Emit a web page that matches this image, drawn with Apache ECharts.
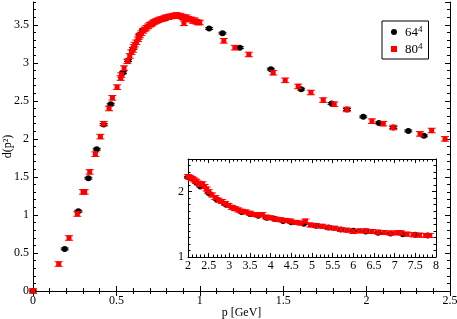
<!DOCTYPE html>
<html><head><meta charset="utf-8">
<script src="https://cdn.jsdelivr.net/npm/echarts@6/dist/echarts.min.js"></script>
<style>html,body{margin:0;padding:0;background:#fff}#c{width:457px;height:319px}</style>
</head><body><div id="c"></div><script>
// ---- data ----
const legendBases = ['64', '80'];
const legendPower = '4';
const xName = 'p [GeV]';
const yName = 'd(p\u00B2)';

// main panel, 64^4
const mainX64 = [0, 0.19, 0.272, 0.332, 0.382, 0.424, 0.466, 0.54, 0.57, 0.60, 0.64, 0.66, 0.72, 0.80, 1.056, 1.136, 1.24, 1.426, 1.608, 1.79, 1.882, 1.98, 2.074, 2.16, 2.25, 2.344];
const mainY64 = [0, 0.553, 1.049, 1.483, 1.864, 2.19, 2.456, 2.87, 3.03, 3.19, 3.37, 3.43, 3.52, 3.59, 3.45, 3.39, 3.20, 2.917, 2.654, 2.465, 2.387, 2.29, 2.21, 2.15, 2.105, 2.04];
const mainErr64 = 0.012;

// main panel, 80^4
const mainX80 = [0, 0.154, 0.216, 0.266, 0.300, 0.310, 0.34, 0.374, 0.404, 0.424, 0.456, 0.476, 0.504, 0.526, 0.53, 0.546, 0.566,
  0.58, 0.59, 0.60, 0.605, 0.61, 0.62, 0.63, 0.635, 0.64, 0.65, 0.66, 0.67, 0.68, 0.69, 0.70, 0.71, 0.72, 0.73, 0.74, 0.75, 0.76, 0.77, 0.78, 0.79,
  0.80, 0.81, 0.82, 0.83, 0.84, 0.85, 0.86, 0.87, 0.88, 0.89, 0.90, 0.905, 0.91, 0.92, 0.93, 0.94, 0.95, 0.96, 0.97, 0.98, 0.99, 1.00,
  1.144, 1.21, 1.294, 1.44, 1.512, 1.59, 1.666, 1.74, 1.806, 1.882, 2.032, 2.10, 2.16, 2.32, 2.39, 2.47];
const mainY80 = [0, 0.355, 0.697, 1.013, 1.303, 1.303, 1.566, 1.799, 2.03, 2.20, 2.40, 2.54, 2.68, 2.80, 2.84, 2.93, 3.02,
  3.09, 3.14, 3.17, 3.21, 3.24, 3.27, 3.31, 3.34, 3.36, 3.39, 3.42, 3.44, 3.46, 3.48, 3.50, 3.51, 3.53, 3.54, 3.55, 3.56, 3.57, 3.575, 3.58, 3.59,
  3.60, 3.60, 3.61, 3.61, 3.62, 3.62, 3.63, 3.62, 3.62, 3.61, 3.60, 3.52, 3.59, 3.60, 3.58, 3.57, 3.57, 3.55, 3.56, 3.54, 3.53, 3.53,
  3.29, 3.20, 3.11, 2.87, 2.77, 2.69, 2.61, 2.51, 2.456, 2.387, 2.233, 2.20, 2.15, 2.066, 2.11, 2.00];
const mainErr80 = 0.03;

// inset, 64^4
const insetX64 = [2.0, 2.2, 2.3, 2.5, 2.7, 2.9, 3.1, 3.3, 3.5, 3.7, 3.9, 4.1, 4.3, 4.5, 4.8, 5.1, 5.4, 5.7, 6.0, 6.3, 6.6, 6.9, 7.2, 7.5, 7.8];
const insetY64 = [2.22, 2.14, 2.08, 1.98, 1.88, 1.81, 1.75, 1.69, 1.66, 1.63, 1.60, 1.58, 1.55, 1.53, 1.51, 1.48, 1.45, 1.42, 1.40, 1.39, 1.37, 1.36, 1.35, 1.34, 1.33];
const insetErr64 = 0.01;

// inset, 80^4
const insetX80 = [2.00, 2.05, 2.10, 2.15, 2.20, 2.25, 2.30, 2.35, 2.40, 2.45, 2.50, 2.58, 2.66, 2.74, 2.82, 2.90, 2.98, 3.06, 3.14, 3.22, 3.30, 3.40, 3.50, 3.60, 3.70, 3.80, 3.90, 4.00,
  4.12, 4.24, 4.36, 4.48, 4.60, 4.72, 4.84, 4.96, 5.10, 5.25, 5.40, 5.55, 5.70, 5.85, 6.00, 6.15, 6.30, 6.45, 6.60, 6.75, 6.90, 7.05, 7.15, 7.30, 7.45, 7.60, 7.75, 7.85];
const insetY80 = [2.23, 2.22, 2.20, 2.18, 2.16, 2.13, 2.11, 2.12, 2.08, 2.04, 2.00, 1.95, 1.91, 1.87, 1.85, 1.82, 1.79, 1.76, 1.74, 1.72, 1.70, 1.69, 1.67, 1.65, 1.64, 1.65, 1.61, 1.60,
  1.58, 1.57, 1.56, 1.55, 1.53, 1.52, 1.55, 1.49, 1.48, 1.47, 1.45, 1.44, 1.42, 1.41, 1.39, 1.40, 1.40, 1.39, 1.38, 1.375, 1.365, 1.37, 1.37, 1.35, 1.34, 1.335, 1.33, 1.33];
const insetErr80 = 0.03;

// ---- chart ----
const FONT = 'Liberation Serif';
const chart = echarts.init(document.getElementById('c'), null, {renderer: 'canvas'});

function pack(xs, ys, e) { return xs.map((x, i) => [x, ys[i], e]); }

function errRender(kind) {
  return function (params, api) {
    const x = api.value(0), y = api.value(1), e = api.value(2);
    const p = api.coord([x, y]);
    const t = api.coord([x, y + e]);
    const b = api.coord([x, y - e]);
    const col = api.visual('color');
    const hw = 4;
    const ls = {stroke: col, lineWidth: 1};
    const mark = kind === 'circle'
      ? {type: 'circle', shape: {cx: p[0], cy: p[1], r: 3}, style: {fill: col}}
      : {type: 'rect', shape: {x: p[0] - 2.5, y: p[1] - 2.5, width: 5, height: 5}, style: {fill: col}};
    return {type: 'group', children: [
      {type: 'line', shape: {x1: p[0], y1: t[1], x2: p[0], y2: b[1]}, style: ls},
      {type: 'line', shape: {x1: p[0] - hw, y1: t[1], x2: p[0] + hw, y2: t[1]}, style: ls},
      {type: 'line', shape: {x1: p[0] - hw, y1: b[1], x2: p[0] + hw, y2: b[1]}, style: ls},
      mark
    ]};
  };
}

const lab = {fontFamily: FONT, fontSize: 12, color: '#000'};
const line = {show: true, lineStyle: {color: '#000', width: 1}};
function xAx(grid, pos, min, max, interval, showLabel, tl, mtl, extra) {
  return Object.assign({
    type: 'value', gridIndex: grid, position: pos, min, max, interval,
    axisLine: line, splitLine: {show: false},
    axisTick: {show: true, inside: true, length: tl, lineStyle: {color: '#000'}},
    minorTick: {show: true, splitNumber: 5, length: mtl, lineStyle: {color: '#000'}},
    axisLabel: Object.assign({show: showLabel, margin: 4}, lab)
  }, extra || {});
}
function yAx(grid, pos, min, max, interval, showLabel, tl, showLine, extra) {
  return Object.assign({
    type: 'value', gridIndex: grid, position: pos, min, max, interval,
    axisLine: showLine ? line : {show: false}, splitLine: {show: false},
    axisTick: {show: true, inside: true, length: tl, lineStyle: {color: '#000'}},
    minorTick: {show: false},
    axisLabel: Object.assign({show: showLabel, margin: 4, showMaxLabel: false}, lab)
  }, extra || {});
}

const option = {
  backgroundColor: '#fff',
  animation: false,
  grid: [
    {left: 33, right: 7, top: 2, bottom: 28, show: false, containLabel: false, outerBoundsMode: 'none'},
    {left: 188, right: 21, top: 159, bottom: 62, show: true, backgroundColor: '#fff', borderWidth: 0, z: 3, containLabel: false, outerBoundsMode: 'none'}
  ],
  legend: {
    orient: 'vertical', left: 382, top: 21,
    padding: [4, 6, 3, 9], itemGap: 3, itemWidth: 6, itemHeight: 6,
    borderColor: '#000', borderWidth: 1, borderRadius: 0, backgroundColor: '#fff',
    data: [{name: legendBases[0], icon: 'circle'}, {name: legendBases[1], icon: 'rect'}],
    formatter: n => '{n|' + n + '}{s|' + legendPower + '}',
    textStyle: {fontFamily: FONT, fontSize: 13, color: '#000', rich: {
      n: {fontFamily: FONT, fontSize: 13, lineHeight: 14, verticalAlign: 'bottom', padding: [0, 0, 0, 3]},
      s: {fontFamily: FONT, fontSize: 9, lineHeight: 14, verticalAlign: 'top'}
    }}
  },
  xAxis: [
    xAx(0, 'bottom', 0, 2.5, 0.5, true, 5, 3, {name: xName, nameLocation: 'middle', nameGap: 16, nameMoveOverlap: false, nameTextStyle: lab}),
    xAx(0, 'top', 0, 2.5, 0.5, false, 5, 3),
    xAx(1, 'bottom', 2, 8, 0.5, true, 4, 2.5, {z: 4, axisLabel: Object.assign({show: true, margin: 3}, lab)}),
    xAx(1, 'top', 2, 8, 0.5, false, 4, 2.5, {z: 4})
  ],
  yAxis: [
    yAx(0, 'left', 0, 3.8, 0.5, true, 5, true, {name: yName, nameLocation: 'middle', nameGap: 19, nameMoveOverlap: false, nameTextStyle: lab}),
    yAx(0, 'left', 0, 3.8, 0.1, false, 3, false),
    yAx(0, 'right', 0, 3.8, 0.5, false, 5, true),
    yAx(0, 'right', 0, 3.8, 0.1, false, 3, false),
    yAx(1, 'left', 1, 2.5, 1, true, 4, true, {z: 4}),
    yAx(1, 'left', 1, 2.5, 0.1, false, 2.5, false, {z: 4}),
    yAx(1, 'right', 1, 2.5, 1, false, 4, true, {z: 4}),
    yAx(1, 'right', 1, 2.5, 0.1, false, 2.5, false, {z: 4})
  ],
  series: [
    {name: legendBases[0], type: 'custom', xAxisIndex: 0, yAxisIndex: 0, renderItem: errRender('circle'),
      itemStyle: {color: '#000'}, encode: {x: 0, y: 1}, data: pack(mainX64, mainY64, mainErr64), z: 2},
    {name: legendBases[1], type: 'custom', xAxisIndex: 0, yAxisIndex: 0, renderItem: errRender('rect'),
      itemStyle: {color: '#ff0000'}, encode: {x: 0, y: 1}, data: pack(mainX80, mainY80, mainErr80), z: 3},
    {name: legendBases[0], type: 'custom', xAxisIndex: 2, yAxisIndex: 4, renderItem: errRender('circle'),
      itemStyle: {color: '#000'}, encode: {x: 0, y: 1}, data: pack(insetX64, insetY64, insetErr64), z: 5},
    {name: legendBases[1], type: 'custom', xAxisIndex: 2, yAxisIndex: 4, renderItem: errRender('rect'),
      itemStyle: {color: '#ff0000'}, encode: {x: 0, y: 1}, data: pack(insetX80, insetY80, insetErr80), z: 6}
  ]
};
chart.setOption(option);
</script></body></html>
